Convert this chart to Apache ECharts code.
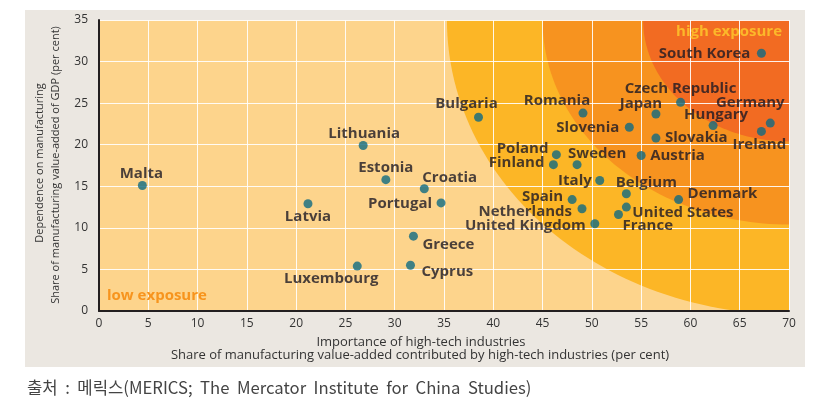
<!DOCTYPE html>
<html><head><meta charset="utf-8">
<script src="https://cdn.jsdelivr.net/npm/echarts@6/dist/echarts.min.js"></script>
<style>html,body{margin:0;padding:0;background:#fff;}#c{width:821px;height:401px;}</style>
</head><body><div id="c"></div>
<script>
// ---- data ----
const countries = ['Malta','Lithuania','Estonia','Croatia','Portugal','Latvia','Greece','Cyprus','Luxembourg',
  'Bulgaria','Romania','Czech Republic','Japan','Germany','Hungary','Ireland','Slovenia','Slovakia','Austria',
  'Poland','Finland','Sweden','South Korea','Italy','Belgium','Spain','Netherlands','United Kingdom',
  'United States','France','Denmark'];
const highTechShare = [4.4,26.8,29.1,33.0,34.7,21.2,31.9,31.6,26.2,
  38.5,49.1,59.0,56.5,68.1,62.3,67.2,53.8,56.5,55.0,
  46.4,46.1,48.5,67.2,50.8,53.5,48.0,49.0,50.3,
  53.5,52.7,58.8];
const manufShare = [15.1,19.9,15.8,14.7,13.0,12.9,9.0,5.5,5.4,
  23.3,23.8,25.1,23.7,22.6,22.3,21.6,22.1,20.8,18.7,
  18.8,17.6,17.6,31.0,15.7,14.1,13.4,12.3,10.5,
  12.5,11.6,13.4];
const xTickLabels = ['0','5','10','15','20','25','30','35','40','45','50','55','60','65','70'];
const yTickLabels = ['0','5','10','15','20','25','30','35'];
// exposure zones: quarter ellipses around the top-right corner (data units)
const zoneRadiusX = [34.7, 25.0, 14.8];
const zoneRadiusY = [35.4, 24.6, 14.6];
const zoneLabels = ['low exposure','high exposure'];
const xTitle = ['Importance of high-tech industries','Share of manufacturing value-added contributed by high-tech industries (per cent)'];
const yTitle = ['Dependence on manufacturing','Share of manufacturing value-added of GDP (per cent)'];
const sourceText = '출처  :  메릭스(MERICS;  The  Mercator  Institute  for  China  Studies)';

// ---- label placement (style only) ----
const labelPlace = {
  'Malta':['center',-1,-12],'Lithuania':['center',1,-12],'Estonia':['center',0,-12],'Croatia':['left',-2,-11],
  'Portugal':['right',-9,1],'Latvia':['center',0,13],'Greece':['left',9,9],'Cyprus':['left',11,6],
  'Luxembourg':['center',-26,13],'Bulgaria':['center',-12,-14],'Romania':['center',-26,-12],
  'Czech Republic':['center',0,-14],'Japan':['center',-15,-10],'Germany':['center',-20,-20],
  'Hungary':['center',3,-11],'Ireland':['center',-2,13],'Slovenia':['right',-10,0],'Slovakia':['left',9,0],
  'Austria':['left',9,0],'Poland':['right',-8,-6],'Finland':['right',-9,-2],'Sweden':['left',-9,-11],
  'South Korea':['right',-11,0],'Italy':['right',-8,0],'Belgium':['center',20,-11],'Spain':['right',-9,-3],
  'Netherlands':['right',-10,3],'United Kingdom':['right',-9,2],'United States':['left',6,6],
  'France':['left',4,11],'Denmark':['left',9,-6]
};
const zoneColors = ['#fcb626','#f7931f','#f26b22'];
const xMin = +xTickLabels[0], xMax = +xTickLabels[xTickLabels.length-1];
const yMin = +yTickLabels[0], yMax = +yTickLabels[yTickLabels.length-1];

const chart = echarts.init(document.getElementById('c'), null, {renderer:'canvas'});

const bgData = [[xMax, yMax, 0, 0]].concat(zoneRadiusX.map((rx,i)=>[xMax, yMax, rx, zoneRadiusY[i]]));

const scatterData = countries.map((n,i)=>{
  const p = labelPlace[n];
  return {name:n, value:[highTechShare[i], manufShare[i]],
    label:{show:true, position:'inside', align:p[0], verticalAlign:'middle', offset:[p[1],p[2]]}};
});

const axisLabelStyle = {color:'#333', fontSize:12, fontFamily:'Open Sans'};

chart.setOption({
  animation:false,
  grid:{left:99, right:32, top:20, bottom:90, show:false},
  xAxis:{type:'value', min:xMin, max:xMax, interval:5,
    axisLine:{show:true, onZero:false, lineStyle:{color:'#231f20', width:2}},
    axisTick:{show:false},
    axisLabel:Object.assign({margin:7, formatter:(v)=>xTickLabels[Math.round((v-xMin)/5)]}, axisLabelStyle),
    splitLine:{show:true, lineStyle:{color:'#ffffff', width:1, opacity:0.9}}},
  yAxis:{type:'value', min:yMin, max:yMax, interval:5,
    axisLine:{show:true, onZero:false, lineStyle:{color:'#231f20', width:2}},
    axisTick:{show:false},
    axisLabel:Object.assign({margin:11, formatter:(v)=>yTickLabels[Math.round((v-yMin)/5)]}, axisLabelStyle),
    splitLine:{show:true, lineStyle:{color:'#ffffff', width:1, opacity:0.9}}},
  graphic:[
    {type:'rect', z:-20, silent:true, shape:{x:25, y:10, width:780, height:357}, style:{fill:'#ebe7e1'}},
    {type:'text', z:10, x:421, y:342, style:{text:xTitle[0], fill:'#333', font:'13px "Open Sans"', align:'center', verticalAlign:'middle'}},
    {type:'text', z:10, x:420, y:355, style:{text:xTitle[1], fill:'#333', font:'13px "Open Sans"', align:'center', verticalAlign:'middle'}},
    {type:'text', z:10, x:40, y:163, rotation:Math.PI/2, style:{text:yTitle[0], fill:'#333', font:'11px "Open Sans"', align:'center', verticalAlign:'middle'}},
    {type:'text', z:10, x:56, y:165, rotation:Math.PI/2, style:{text:yTitle[1], fill:'#333', font:'11px "Open Sans"', align:'center', verticalAlign:'middle'}},
    {type:'text', z:10, x:27, y:388, style:{text:sourceText, fill:'#444', font:'16.7px "Noto Sans CJK KR"', align:'left', verticalAlign:'middle'}},
    {type:'text', z:10, x:107, y:296, style:{text:zoneLabels[0], fill:'#f7941d', font:'bold 15px "Open Sans"', align:'left', verticalAlign:'middle'}},
    {type:'text', z:10, x:782, y:32, style:{text:zoneLabels[1], fill:'#fcb82a', font:'bold 15px "Open Sans"', align:'right', verticalAlign:'middle'}}
  ],
  series:[
    {type:'custom', z:-5, silent:true, clip:true, data:bgData,
      encode:{x:0, y:1},
      renderItem:function(params, api){
        const cx = api.value(0), cy = api.value(1), rx = api.value(2), ry = api.value(3);
        if (params.dataIndex === 0) {
          const p0 = api.coord([xMin, yMin]), p1 = api.coord([xMax, yMax]);
          return {type:'rect', shape:{x:p0[0], y:p1[1], width:p1[0]-p0[0], height:p0[1]-p1[1]}, style:{fill:'#fdd48c'}};
        }
        const pts = [api.coord([cx, cy])];
        for (let a = 0; a <= 90; a += 1.5) {
          const t = a*Math.PI/180;
          pts.push(api.coord([cx - rx*Math.cos(t), cy - ry*Math.sin(t)]));
        }
        return {type:'polygon', shape:{points:pts}, style:{fill:zoneColors[params.dataIndex-1]}};
      }},
    {type:'scatter', z:5, symbol:'circle', symbolSize:9, itemStyle:{color:'#0f6a82'},
      label:{color:'#1d1924', fontWeight:'bold', fontSize:15, fontFamily:'Open Sans',
        textBorderWidth:0, textBorderColor:'transparent', textShadowBlur:0, formatter:(p)=>p.name},
      data:scatterData}
  ]
});
</script></body></html>
